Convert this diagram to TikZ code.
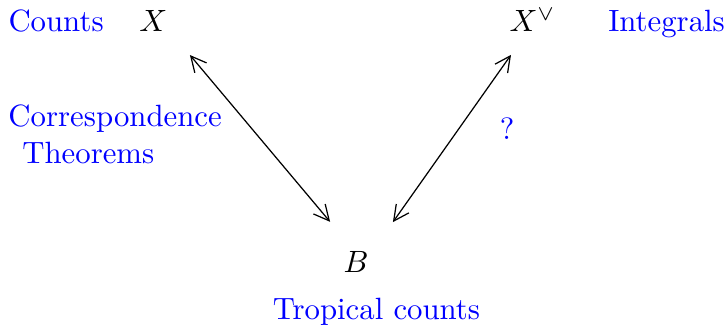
\documentclass[tikz,border=0pt]{standalone}
\usetikzlibrary{arrows.meta}
\begin{document}
\begin{tikzpicture}[
   x=1cm,y=1cm,
   lbl/.style={text=blue,inner sep=0pt,anchor=base},
   obj/.style={anchor=base},
   dual/.style={{Straight Barb[length=5pt,width=5pt]}-{Straight Barb[length=5pt,width=5pt]}}
 ]
  \useasboundingbox (0,0) rectangle (8.30,3.71);
  \node[obj] (x) at (1.75,3.345) {$X$};
  \node[obj] (xv) at (6.08,3.345) {$X^\vee$};
  \node[obj] (b) at (4.064,0.597) {$B$};

  \node[lbl] (cnt) at (0.64,3.345) {Counts};
  \node[lbl] (intg) at (7.61,3.345) {Integrals};
  \node[lbl,anchor=base west,align=left] (corr) at (0.09,1.849) {Correspondence\\\hspace{4.5pt}Theorems};
  \node[lbl] (q) at (5.79,2.123) {?};
  \node[lbl] (trop) at (4.298,0.068) {Tropical counts};

  \draw[dual] ([xshift=11.9pt,yshift=-10.9pt]x.center) -- ([xshift=-8.4pt,yshift=13.1pt]b.center);
  \draw[dual] ([xshift=-7pt,yshift=-11.2pt]xv.center) -- ([xshift=12pt,yshift=13pt]b.center);
 \end{tikzpicture}
\end{document}
